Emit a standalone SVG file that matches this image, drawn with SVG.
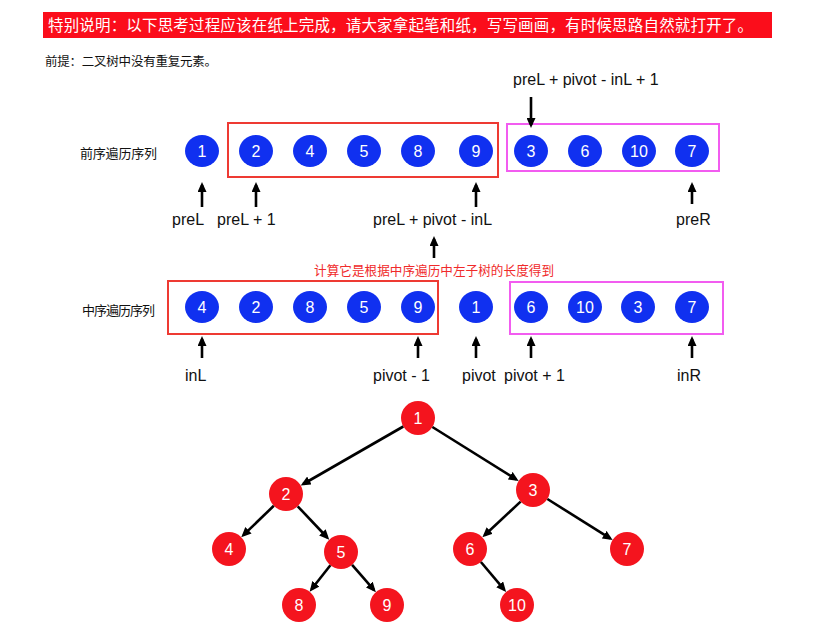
<svg xmlns="http://www.w3.org/2000/svg" width="819" height="637" viewBox="0 0 819 637">
  <defs>
    <marker id="head" markerUnits="userSpaceOnUse" markerWidth="10" markerHeight="9" refX="7" refY="4.5" orient="auto">
      <path d="M0,0 L10,4.5 L0,9 Z" fill="#000"/>
    </marker>
  </defs>
  <style>
    .cjk { font-family: "Noto Sans CJK SC", "Noto Sans", sans-serif; }
    .lbl { font-family: "Liberation Sans", Arial, sans-serif; font-size: 16px; fill: #111; }
    .num { font-family: "Liberation Sans", Arial, sans-serif; font-size: 16px; fill: #fff; text-anchor: middle; }
    .blue { fill: #1030f0; }
    .red { fill: #f4141e; }
    .box-red { fill: none; stroke: #ee3a33; stroke-width: 2; }
    .box-pink { fill: none; stroke: #f25cf0; stroke-width: 2; }
    .arr { stroke: #000; stroke-width: 2.6; fill: none; marker-end: url(#head); }
  </style>

  <rect width="819" height="637" fill="#fff"/>

  <!-- banner -->
  <rect x="43" y="12" width="729" height="26" fill="#fb0d1b"/>
  <text class="cjk" x="48" y="31" font-size="15.5" fill="#fff" textLength="705" lengthAdjust="spacing">特别说明：以下思考过程应该在纸上完成，请大家拿起笔和纸，写写画画，有时候思路自然就打开了。</text>

  <text class="cjk" x="45" y="65.5" font-size="12.5" fill="#111" textLength="172" lengthAdjust="spacing">前提：二叉树中没有重复元素。</text>

  <!-- preorder row -->
  <g id="preorder">
    <text class="cjk" x="80" y="158" font-size="13" fill="#111" textLength="77" lengthAdjust="spacing">前序遍历序列</text>
    <rect class="box-red" x="228" y="123" width="270" height="54"/>
    <rect class="box-pink" x="507" y="124" width="212" height="47"/>
    <g id="pre-1"><ellipse class="blue" cx="202" cy="151" rx="17" ry="16"/><text class="num" x="202" y="157">1</text></g>
    <g id="pre-2"><ellipse class="blue" cx="256" cy="151" rx="17" ry="16"/><text class="num" x="256" y="157">2</text></g>
    <g id="pre-4"><ellipse class="blue" cx="310" cy="151" rx="17" ry="16"/><text class="num" x="310" y="157">4</text></g>
    <g id="pre-5"><ellipse class="blue" cx="364" cy="151" rx="17" ry="16"/><text class="num" x="364" y="157">5</text></g>
    <g id="pre-8"><ellipse class="blue" cx="418" cy="151" rx="17" ry="16"/><text class="num" x="418" y="157">8</text></g>
    <g id="pre-9"><ellipse class="blue" cx="476" cy="151" rx="17" ry="16"/><text class="num" x="476" y="157">9</text></g>
    <g id="pre-3"><ellipse class="blue" cx="531" cy="151" rx="17" ry="16"/><text class="num" x="531" y="157">3</text></g>
    <g id="pre-6"><ellipse class="blue" cx="585" cy="151" rx="17" ry="16"/><text class="num" x="585" y="157">6</text></g>
    <g id="pre-10"><ellipse class="blue" cx="639" cy="151" rx="17" ry="16"/><text class="num" x="639" y="157">10</text></g>
    <g id="pre-7"><ellipse class="blue" cx="692" cy="151" rx="17" ry="16"/><text class="num" x="692" y="157">7</text></g>
  </g>

  <!-- preorder index labels -->
  <g id="pre-labels">
    <text class="lbl" x="513" y="85">preL + pivot - inL + 1</text>
    <text class="lbl" x="172" y="225">preL</text>
    <text class="lbl" x="217" y="225">preL + 1</text>
    <text class="lbl" x="373" y="225">preL + pivot - inL</text>
    <text class="lbl" x="676" y="225">preR</text>
  </g>

  <text class="cjk" x="314" y="275" font-size="12.6" fill="#f02a2a" textLength="240" lengthAdjust="spacing">计算它是根据中序遍历中左子树的长度得到</text>

  <!-- inorder row -->
  <g id="inorder">
    <text class="cjk" x="82" y="315" font-size="13" fill="#111" textLength="73" lengthAdjust="spacing">中序遍历序列</text>
    <rect class="box-red" x="168" y="281" width="270" height="53"/>
    <rect class="box-pink" x="510" y="282" width="213" height="52"/>
    <g id="in-4"><ellipse class="blue" cx="202" cy="307" rx="17" ry="16"/><text class="num" x="202" y="313">4</text></g>
    <g id="in-2"><ellipse class="blue" cx="256" cy="307" rx="17" ry="16"/><text class="num" x="256" y="313">2</text></g>
    <g id="in-8"><ellipse class="blue" cx="310" cy="307" rx="17" ry="16"/><text class="num" x="310" y="313">8</text></g>
    <g id="in-5"><ellipse class="blue" cx="364" cy="307" rx="17" ry="16"/><text class="num" x="364" y="313">5</text></g>
    <g id="in-9"><ellipse class="blue" cx="418" cy="307" rx="17" ry="16"/><text class="num" x="418" y="313">9</text></g>
    <g id="in-1"><ellipse class="blue" cx="476" cy="307" rx="17" ry="16"/><text class="num" x="476" y="313">1</text></g>
    <g id="in-6"><ellipse class="blue" cx="531" cy="307" rx="17" ry="16"/><text class="num" x="531" y="313">6</text></g>
    <g id="in-10"><ellipse class="blue" cx="585" cy="307" rx="17" ry="16"/><text class="num" x="585" y="313">10</text></g>
    <g id="in-3"><ellipse class="blue" cx="638" cy="307" rx="17" ry="16"/><text class="num" x="638" y="313">3</text></g>
    <g id="in-7"><ellipse class="blue" cx="692" cy="307" rx="17" ry="16"/><text class="num" x="692" y="313">7</text></g>
  </g>

  <g id="in-labels">
    <text class="lbl" x="185" y="381">inL</text>
    <text class="lbl" x="373" y="381">pivot - 1</text>
    <text class="lbl" x="462" y="381">pivot</text>
    <text class="lbl" x="504" y="381">pivot + 1</text>
    <text class="lbl" x="677" y="381">inR</text>
  </g>

  <!-- tree nodes -->
  <g id="t1"><circle class="red" cx="418" cy="418" r="17"/><text class="num" x="418" y="424">1</text></g>
  <g id="t2"><circle class="red" cx="286" cy="494" r="17"/><text class="num" x="286" y="500">2</text></g>
  <g id="t3"><circle class="red" cx="533" cy="490" r="17"/><text class="num" x="533" y="496">3</text></g>
  <g id="t4"><circle class="red" cx="229" cy="549" r="17"/><text class="num" x="229" y="555">4</text></g>
  <g id="t5"><circle class="red" cx="341" cy="552" r="17"/><text class="num" x="341" y="558">5</text></g>
  <g id="t6"><circle class="red" cx="470" cy="549" r="17"/><text class="num" x="470" y="555">6</text></g>
  <g id="t7"><circle class="red" cx="627" cy="549" r="17"/><text class="num" x="627" y="555">7</text></g>
  <g id="t8"><circle class="red" cx="299" cy="605" r="17"/><text class="num" x="299" y="611">8</text></g>
  <g id="t9"><circle class="red" cx="387" cy="605" r="17"/><text class="num" x="387" y="611">9</text></g>
  <g id="t10"><circle class="red" cx="517" cy="605" r="17"/><text class="num" x="517" y="611">10</text></g>

  <!-- connectors -->
  <g id="connectors">
    <line class="arr" x1="531" y1="97" x2="531" y2="125"/>
    <line class="arr" x1="202" y1="207" x2="202" y2="185"/>
    <line class="arr" x1="256" y1="207" x2="256" y2="185"/>
    <line class="arr" x1="476" y1="207" x2="476" y2="185"/>
    <line class="arr" x1="692" y1="204" x2="692" y2="185"/>
    <line class="arr" x1="434" y1="258" x2="434" y2="239"/>
    <line class="arr" x1="202" y1="358" x2="202" y2="339"/>
    <line class="arr" x1="418" y1="358" x2="418" y2="339"/>
    <line class="arr" x1="476" y1="358" x2="476" y2="339"/>
    <line class="arr" x1="531" y1="358" x2="531" y2="339"/>
    <line class="arr" x1="692" y1="358" x2="692" y2="339"/>

    <line class="arr" x1="403.3" y1="426.5" x2="303.3" y2="484"/>
    <line class="arr" x1="432.4" y1="427" x2="516.1" y2="479.4"/>
    <line class="arr" x1="273.8" y1="505.8" x2="243.4" y2="535.1"/>
    <line class="arr" x1="297.7" y1="506.3" x2="327.2" y2="537.5"/>
    <line class="arr" x1="330.4" y1="565.3" x2="311.5" y2="589.3"/>
    <line class="arr" x1="352.1" y1="564.8" x2="373.9" y2="589.9"/>
    <line class="arr" x1="520.6" y1="501.6" x2="484.6" y2="535.3"/>
    <line class="arr" x1="547.4" y1="499" x2="610.1" y2="538.4"/>
    <line class="arr" x1="480.9" y1="562" x2="504.2" y2="589.7"/>
  </g>
</svg>
